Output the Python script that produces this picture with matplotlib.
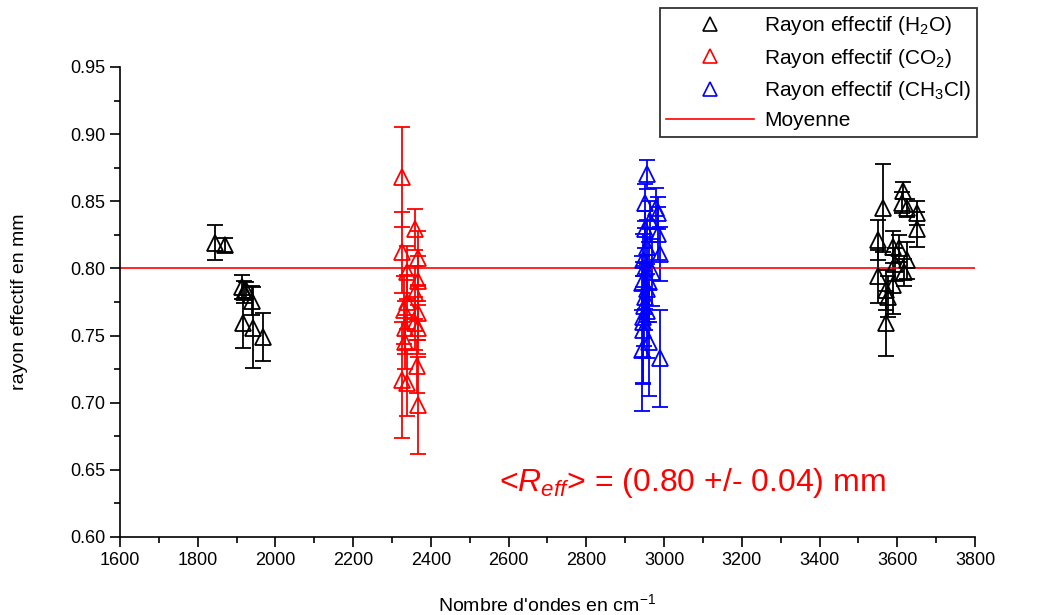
import numpy as np
import matplotlib
matplotlib.use('Agg')
import matplotlib.pyplot as plt
from matplotlib.ticker import MultipleLocator
from matplotlib.lines import Line2D

plt.rcParams['font.family'] = ['Liberation Sans', 'DejaVu Sans']
plt.rcParams['mathtext.fontset'] = 'custom'
plt.rcParams['mathtext.rm'] = 'Liberation Sans'
plt.rcParams['mathtext.it'] = 'Liberation Sans:italic'

# donnees (nombre d'ondes, rayon, erreur)
h2o_x = [1844, 1870, 1914, 1918, 1924, 1940, 1917, 1943, 1968,
         3563, 3615, 3612, 3625, 3651, 3650, 3550, 3590, 3605, 3625,
         3595, 3618, 3550, 3590, 3570, 3575, 3570]
h2o_y = [0.819, 0.8175, 0.786, 0.7825, 0.784, 0.776, 0.759, 0.756, 0.749,
         0.845, 0.858, 0.849, 0.845, 0.841, 0.829, 0.821, 0.816, 0.815, 0.806,
         0.803, 0.797, 0.794, 0.788, 0.784, 0.779, 0.759]
h2o_err = [0.013, 0.005, 0.009, 0.008, 0.006, 0.011, 0.018, 0.03, 0.018,
           0.033, 0.006, 0.008, 0.007, 0.009, 0.013, 0.015, 0.012, 0.01, 0.014,
           0.012, 0.01, 0.02, 0.022, 0.015, 0.015, 0.024]

co2_x = [2326, 2359, 2326, 2367, 2338, 2367, 2359, 2338, 2367,
         2330, 2359, 2333, 2367, 2333, 2365, 2326, 2367, 2338]
co2_y = [0.868, 0.829, 0.812, 0.808, 0.797, 0.791, 0.782, 0.775, 0.767,
         0.769, 0.759, 0.756, 0.756, 0.745, 0.727, 0.717, 0.698, 0.715]
co2_err = [0.037, 0.015, 0.03, 0.02, 0.02, 0.018, 0.02, 0.02, 0.02,
           0.025, 0.02, 0.02, 0.02, 0.02, 0.02, 0.043, 0.036, 0.025]

ch3cl_x = [2956, 2950, 2985, 2980, 2950, 2985, 2956, 2990, 2945, 2970,
           2942, 2956, 2950, 2945, 2945, 2962, 2942, 2990, 2950, 2960,
           2948, 2955, 2965, 2945]
ch3cl_y = [0.870, 0.849, 0.841, 0.845, 0.829, 0.826, 0.816, 0.811, 0.806, 0.797,
           0.789, 0.785, 0.779, 0.764, 0.754, 0.745, 0.739, 0.733, 0.800, 0.790,
           0.772, 0.768, 0.835, 0.760]
ch3cl_err = [0.011, 0.014, 0.012, 0.015, 0.014, 0.02, 0.02, 0.02, 0.02, 0.025,
             0.02, 0.025, 0.025, 0.03, 0.04, 0.04, 0.045, 0.036, 0.03, 0.03,
             0.03, 0.035, 0.015, 0.045]

moyenne = 0.80

fig = plt.figure(figsize=(10.41, 6.15), dpi=100)
ax = fig.add_axes([120/1041, 1 - 537/615, 855/1041, 470/615])

series = [
    (h2o_x, h2o_y, h2o_err, 'black', r'Rayon effectif (H$_2$O)'),
    (co2_x, co2_y, co2_err, 'red', r'Rayon effectif (CO$_2$)'),
    (ch3cl_x, ch3cl_y, ch3cl_err, 'blue', r'Rayon effectif (CH$_3$Cl)'),
]
handles = []
for x, y, e, c, lab in series:
    ax.errorbar(x, y, yerr=e, fmt='^', mfc='none', mec=c, ecolor=c,
                ms=11, mew=1.3, elinewidth=1.3, capsize=6, capthick=1.3)
    handles.append(Line2D([], [], ls='none', marker='^', mfc='none', mec=c,
                          ms=10, mew=1.2, label=lab))

ax.axhline(moyenne, color='red', lw=1.2)
handles.append(Line2D([], [], color='red', lw=1.2, label='Moyenne'))

ax.set_xlim(1600, 3800)
ax.set_ylim(0.60, 0.95)
ax.xaxis.set_major_locator(MultipleLocator(200))
ax.xaxis.set_minor_locator(MultipleLocator(100))
ax.yaxis.set_major_locator(MultipleLocator(0.05))
ax.yaxis.set_minor_locator(MultipleLocator(0.025))
ax.yaxis.set_major_formatter(plt.FormatStrFormatter('%.2f'))
ax.tick_params(which='major', direction='out', length=7, width=1.2, labelsize=13)
ax.tick_params(which='minor', direction='out', length=4, width=1.2)
ax.spines['top'].set_visible(False)
ax.spines['right'].set_visible(False)
ax.spines['left'].set_linewidth(1.2)
ax.spines['bottom'].set_linewidth(1.2)

ax.set_xlabel(r"Nombre d'ondes en cm$^{-1}$", fontsize=14, labelpad=18)
ax.set_ylabel('rayon effectif en mm', fontsize=14, labelpad=30)

ax.text(3072, 0.640, r'<$R_{eff}$> = (0.80 +/- 0.04) mm', color='red',
        fontsize=23, ha='center', va='center')

leg = fig.legend(handles=handles, loc='upper left',
                 bbox_to_anchor=(660/1041, 1 - 8/615),
                 fontsize=15, frameon=True, fancybox=False, edgecolor='black',
                 handlelength=4.2, handletextpad=0.5, borderpad=0.3,
                 labelspacing=0.45, borderaxespad=0)
leg.get_frame().set_linewidth(1.3)

fig.savefig('out.png', dpi=100)
